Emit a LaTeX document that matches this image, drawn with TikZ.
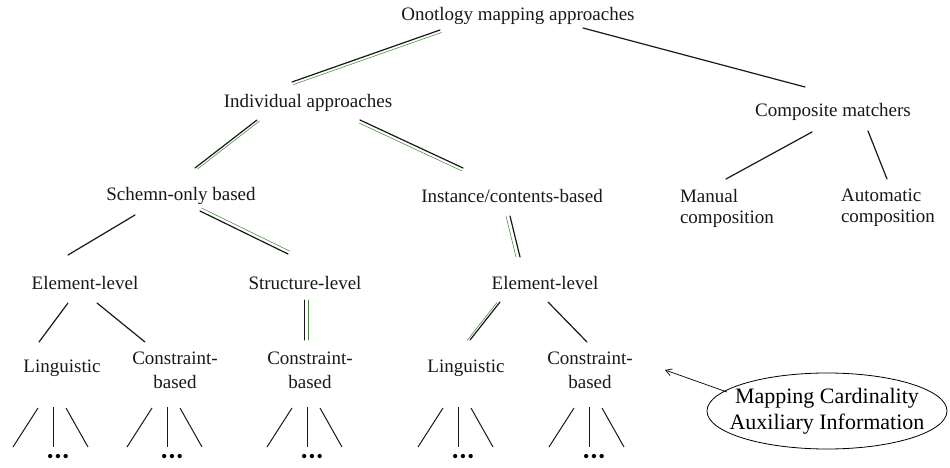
\documentclass[tikz,border=0pt]{standalone}
\usepackage{fontspec}
\setmainfont{Liberation Serif}
\usetikzlibrary{arrows.meta}
\definecolor{edgegreen}{RGB}{70,140,60}
\tikzset{
  lbl/.style={inner sep=0pt, font=\fontsize{19}{24}\selectfont, text=black!90},
  edge/.style={draw=black!90, line width=1.2pt, line cap=round},
  leaf/.style={draw=black!90, line width=1.0pt},
  stem/.style={draw=black!90, line width=0.7pt},
  dbl/.style={edge, postaction={draw=edgegreen, line width=0.55pt, transform canvas={shift={#1}}}},
  dotrow/.style={inner sep=0pt, font=\fontsize{18}{18}\selectfont}
}
\begin{document}
\begin{tikzpicture}[x=1pt,y=-1pt]
\useasboundingbox (0,0) rectangle (950,468);
\fill[white] (0,0) rectangle (950,468);

% tree labels
\node[lbl] (root)   at (518,16)  {Onotlogy mapping approaches};
\node[lbl] (indiv)  at (308,103) {Individual approaches};
\node[lbl] (comp)   at (833,112) {Composite matchers};
\node[lbl] (schema) at (181,196) {Schemn-only based};
\node[lbl] (inst)   at (512,196) {Instance/contents-based};
\node[lbl, align=left, font=\fontsize{19}{21}\selectfont] (manual) at (727,208) {Manual\\composition};
\node[lbl, align=left, font=\fontsize{19}{21}\selectfont] (auto)   at (888,208) {Automatic\\composition};
\node[lbl] (elemL)  at (85,283)  {Element-level};
\node[lbl] (struct) at (305,283) {Structure-level};
\node[lbl] (elemR)  at (545,283) {Element-level};
\node[lbl] (lingL)  at (62,368)  {Linguistic};
\node[lbl, align=center] (consL) at (175,370) {Constraint-\\based};
\node[lbl, align=center] (consM) at (310,370) {Constraint-\\based};
\node[lbl] (lingR)  at (466,368) {Linguistic};
\node[lbl, align=center] (consR) at (590,370) {Constraint-\\based};

% annotation
\node[inner sep=0pt, align=center, font=\fontsize{22}{26}\selectfont] (note) at (827,411)
  {Mapping Cardinality\\Auxiliary Information};
\draw[line width=0.8pt] (note.center) ellipse [x radius=120, y radius=38];
\draw[line width=0.7pt, -{Straight Barb[length=6pt,width=7pt]}]
  ([shift={(-100,-19)}]note.center) -- ([shift={(75,0)}]consR.center);

% connectors between levels
\draw[dbl={(1.5pt,-2.5pt)}] ([shift={(-78,14)}]root.center) -- ([shift={(-16,-21)}]indiv.center);
\draw[edge] ([shift={(65,12)}]root.center) -- ([shift={(-28,-25)}]comp.center);
\draw[dbl={(2.5pt,-1pt)}] ([shift={(-51,17)}]indiv.center) -- ([shift={(14,-28)}]schema.center);
\draw[dbl={(-1pt,-3pt)}] ([shift={(52,17)}]indiv.center) -- ([shift={(-49,-28)}]inst.center);
\draw[edge] ([shift={(-46,19)}]schema.center) -- ([shift={(-17,-28)}]elemL.center);
\draw[dbl={(1.5pt,3pt)}] ([shift={(19,15)}]schema.center) -- ([shift={(-17,-29)}]struct.center);
\draw[dbl={(-4pt,0pt)}] ([shift={(-2,20)}]inst.center) -- ([shift={(-25,-26)}]elemR.center);
\draw[edge] ([shift={(-21,20)}]comp.center) -- ([shift={(-1,-29)}]manual.center);
\draw[edge] ([shift={(35,19)}]comp.center) -- ([shift={(-1,-29)}]auto.center);
\draw[edge] ([shift={(-17,20)}]elemL.center) -- ([shift={(-23,-26)}]lingL.center);
\draw[edge] ([shift={(12,20)}]elemL.center) -- ([shift={(-30,-28)}]consL.center);
\draw[dbl={(4pt,0pt)}, line width=1pt] ([shift={(-1,17)}]struct.center) -- ([shift={(-6,-30)}]consM.center);
\draw[dbl={(-3pt,-0.5pt)}] ([shift={(-45,19)}]elemR.center) -- ([shift={(4,-28)}]lingR.center);
\draw[edge] ([shift={(3,19)}]elemR.center) -- ([shift={(-3,-28)}]consR.center);

% open-ended fans below the leaves
\foreach \leafnode/\mx [count=\i] in {lingL/53, consL/167, consM/307, lingR/458, consR/589}{
  \node[dotrow] (dots\i) at (\mx+5,458) {•\kern1.5pt•\kern1.5pt•};
  \draw[leaf] ([shift={(-20,-50)}]dots\i.center) -- ([shift={(-45,-11)}]dots\i.center);
  \draw[stem] ([shift={(-5,-51)}]dots\i.center) -- ([shift={(-5,-11)}]dots\i.center);
  \draw[leaf] ([shift={(8,-50)}]dots\i.center) -- ([shift={(30,-11)}]dots\i.center);
}
\end{tikzpicture}
\end{document}
